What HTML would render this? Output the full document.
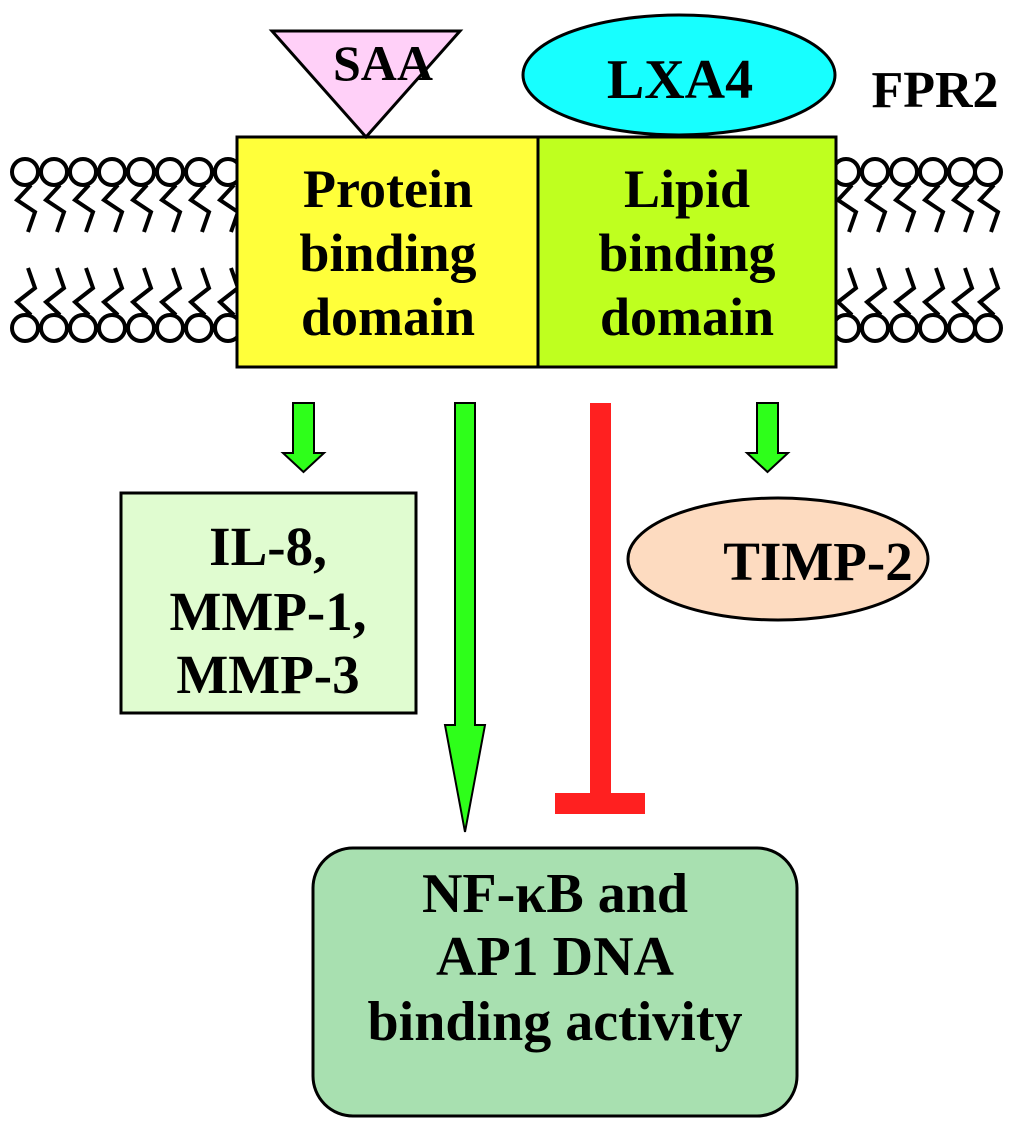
<!DOCTYPE html>
<html><head><style>
html,body{margin:0;padding:0;background:#fff;}
svg text{font-family:"Liberation Serif",serif;font-weight:bold;fill:#000;text-anchor:middle;}
</style></head><body>
<svg width="1024" height="1134" viewBox="0 0 1024 1134" xmlns="http://www.w3.org/2000/svg">
<defs>
<g id="up">
<circle cx="0" cy="172" r="13" fill="#fff" stroke="#000" stroke-width="4"/>
<path d="M6,185 L-8,200 L10,212 L3,232" fill="none" stroke="#000" stroke-width="4"/>
</g>
<g id="dn">
<circle cx="0" cy="328" r="13" fill="#fff" stroke="#000" stroke-width="4"/>
<path d="M3,268 L10,288 L-8,302 L6,315" fill="none" stroke="#000" stroke-width="4"/>
</g>
</defs>
<g>
<use href="#up" x="25"/><use href="#up" x="54"/><use href="#up" x="83"/><use href="#up" x="112"/><use href="#up" x="141"/><use href="#up" x="170"/><use href="#up" x="199"/><use href="#up" x="228"/>
<use href="#dn" x="25"/><use href="#dn" x="54"/><use href="#dn" x="83"/><use href="#dn" x="112"/><use href="#dn" x="141"/><use href="#dn" x="170"/><use href="#dn" x="199"/><use href="#dn" x="228"/>
</g>
<g>
<use href="#up" x="846"/><use href="#up" x="875"/><use href="#up" x="904"/><use href="#up" x="933"/><use href="#up" x="962"/><use href="#up" x="988"/>
<use href="#dn" x="846"/><use href="#dn" x="875"/><use href="#dn" x="904"/><use href="#dn" x="933"/><use href="#dn" x="962"/><use href="#dn" x="988"/>
</g>
<rect x="237" y="137" width="301" height="230" fill="#ffff3a" stroke="#000" stroke-width="3"/>
<rect x="538" y="137" width="298" height="230" fill="#bfff1f" stroke="#000" stroke-width="3"/>
<text x="388" y="207" font-size="54">Protein</text>
<text x="388" y="271" font-size="54">binding</text>
<text x="388" y="335" font-size="54">domain</text>
<text x="687" y="207" font-size="54">Lipid</text>
<text x="687" y="271" font-size="54">binding</text>
<text x="687" y="335" font-size="54">domain</text>
<polygon points="272,31 460,31 366,137" fill="#ffd0f8" stroke="#000" stroke-width="3"/>
<text x="383" y="80" font-size="50">SAA</text>
<ellipse cx="679" cy="75" rx="156" ry="60" fill="#17ffff" stroke="#000" stroke-width="3"/>
<text x="680" y="98" font-size="56">LXA4</text>
<text x="935" y="107" font-size="52">FPR2</text>
<polygon points="293,403 314,403 314,453 324,453 303.5,472 283,453 293,453" fill="#2eff1a" stroke="#000" stroke-width="2"/>
<polygon points="757,403 778,403 778,453 788,453 767.5,472 747,453 757,453" fill="#2eff1a" stroke="#000" stroke-width="2"/>
<polygon points="455,403 475,403 475,725 485,725 465,832 445,725 455,725" fill="#2eff1a" stroke="#000" stroke-width="2"/>
<rect x="590" y="403" width="21" height="395" fill="#ff2020"/>
<rect x="555" y="793" width="90" height="21" fill="#ff2020"/>
<rect x="121" y="493" width="295" height="220" fill="#e0fcd0" stroke="#000" stroke-width="3"/>
<text x="268" y="565" font-size="55">IL-8,</text>
<text x="268" y="630" font-size="55">MMP-1,</text>
<text x="268" y="693" font-size="55">MMP-3</text>
<ellipse cx="778" cy="559" rx="150" ry="61" fill="#fddbc0" stroke="#000" stroke-width="3"/>
<text x="818" y="580" font-size="55">TIMP-2</text>
<rect x="313" y="848" width="484" height="268" rx="40" ry="40" fill="#a8e0b0" stroke="#000" stroke-width="3"/>
<text x="555" y="912" font-size="56">NF-κB and</text>
<text x="555" y="975" font-size="56">AP1 DNA</text>
<text x="555" y="1040" font-size="56">binding activity</text>
</svg>
</body></html>
